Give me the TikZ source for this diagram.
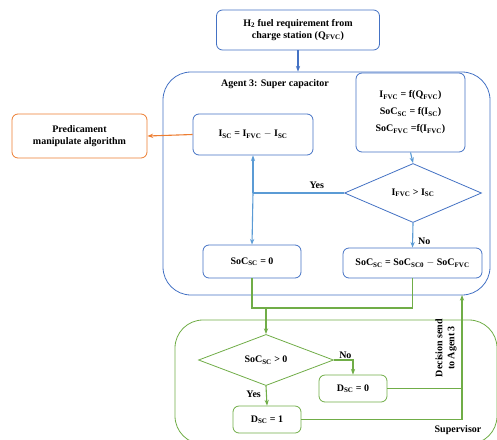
\documentclass[tikz,border=0pt]{standalone}
\usepackage{fontspec}
\setmainfont{Liberation Serif}
\usetikzlibrary{arrows.meta,positioning,shapes.geometric}
\definecolor{ablue}{HTML}{4472C4}
\definecolor{lblue}{HTML}{5B9BD5}
\definecolor{sgreen}{HTML}{70AD47}
\definecolor{orng}{HTML}{ED7D31}
\newcommand{\sub}[1]{\textsubscript{#1}}
\tikzset{
  box/.style={draw=#1, thick, rounded corners=6pt, fill=white, align=center,
              inner sep=0pt, font=\fontsize{10}{12}\selectfont\bfseries},
  dia/.style={draw=#1, thick, diamond, fill=white, inner sep=0pt,
              font=\fontsize{10}{12}\selectfont\bfseries},
  panel/.style={draw=#1, thick, rounded corners=28pt},
  flow/.style={-{Stealth[length=2mm]}, line width=1.1pt, draw=#1},
  link/.style={line width=1.1pt, draw=#1},
  lbl/.style={font=\fontsize{10}{12}\selectfont\bfseries, inner sep=1pt}
}
\begin{document}
\begin{tikzpicture}[x=1pt, y=-1pt]
  \useasboundingbox (0,0) rectangle (497,439);
  % the two agents
  \node[panel=ablue, minimum width=327, minimum height=223] (agent) at (326.5,183.5) {};
  \node[panel=sgreen, minimum width=322, minimum height=124] (sup) at (336,382) {};
  \node[lbl] (agtitle) at (275,84) {Agent 3: Super capacitor};
  \node[lbl] (suptitle) at (458,430) {Supervisor};
  % super capacitor side
  \node[box=ablue, minimum width=163, minimum height=40] (req) at (298,30)
    {H\sub{2} fuel requirement from\\charge station (Q\sub{FVC})};
  \node[box=ablue, minimum width=109, minimum height=79] (fun) at (410.5,112.5)
    {I\sub{FVC} = f(Q\sub{FVC})\\[5pt] SoC\sub{SC} = f(I\sub{SC})\\[5pt] SoC\sub{FVC} =f(I\sub{FVC})};
  \node[dia=ablue, minimum width=137, minimum height=59] (cmp) at (413,193)
    {I\sub{FVC} > I\sub{SC}};
  \node[box=ablue, minimum width=139, minimum height=30] (socr) at (412.5,263)
    {SoC\sub{SC} = SoC\sub{SC0} $-$ SoC\sub{FVC}};
  \node[box=ablue, minimum width=120, minimum height=41] (isc) at (253,134.5)
    {I\sub{SC} = I\sub{FVC} $-$ I\sub{SC}};
  \node[box=ablue, minimum width=98, minimum height=33] (soc0) at (252,261.5)
    {SoC\sub{SC} = 0};
  \node[box=orng, minimum width=135, minimum height=44] (pred) at (79.5,136)
    {Predicament\\manipulate algorithm};
  % supervisor side
  \node[dia=sgreen, minimum width=135, minimum height=46] (chk) at (266,360)
    {SoC\sub{SC} > 0};
  \node[box=sgreen, minimum width=68, minimum height=27] (dzero) at (353,388.5)
    {D\sub{SC} = 0};
  \node[box=sgreen, minimum width=68, minimum height=27] (done) at (267,419.5)
    {D\sub{SC} = 1};
  \node[lbl, rotate=90, align=center] (dec) at (446,348) {Decision send\\to Agent 3};
  \coordinate (split) at (253,193);
  \coordinate (merge) at (266,308);
  \coordinate (ret) at (462,295);
  % connectors
  \draw[flow=ablue] (req.south) -- (req.south |- agent.north);
  \draw[flow=lblue] (fun.south) -- (cmp.north);
  \draw[flow=lblue] (cmp.south) -- node[lbl, right=4pt, pos=0.75] {No} (socr.north);
  \draw[link=lblue] (cmp.west) -- node[lbl, above=3pt, pos=0.3] {Yes} (split);
  \draw[flow=lblue] (split) -- (isc.south);
  \draw[flow=lblue] (split) -- (soc0.north);
  \draw[flow=orng] (isc.west) -- (pred.east);
  \draw[link=sgreen] (soc0.south) -- (soc0.south |- merge) -- (socr.south |- merge) -- (socr.south);
  \draw[flow=sgreen] (merge) -- (chk.north);
  \draw[flow=sgreen] (chk.east) -| node[lbl, above, pos=0.3] {No} (dzero.north);
  \draw[flow=sgreen] (chk.south) -- node[lbl, left=4pt, pos=0.4] {Yes} (done.north);
  \draw[link=sgreen] (dzero.east) -- (dzero.east -| ret);
  \draw[flow=sgreen] (done.east) -| (ret);
\end{tikzpicture}
\end{document}
